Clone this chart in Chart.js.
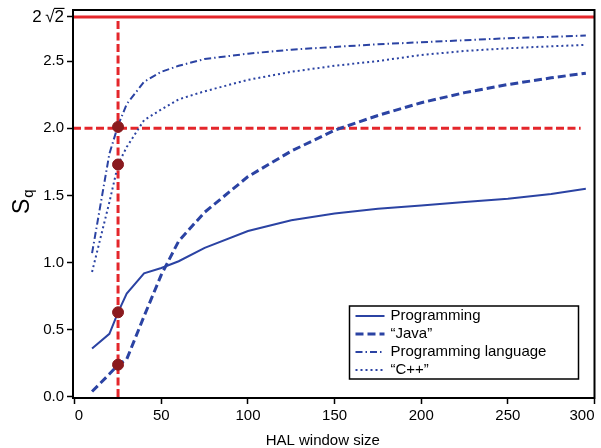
<!DOCTYPE html>
<html lang="en">
<head>
<meta charset="UTF-8">
<title>Sq vs HAL window size</title>
<style>
  html, body { margin: 0; padding: 0; background: #fff; }
  #wrap { width: 601px; height: 448px; }
</style>
</head>
<body>
<div id="wrap"><canvas id="chart" width="601" height="448"></canvas></div>
<script src="https://cdn.jsdelivr.net/npm/chart.js"></script>
<script>
// data
const windowSizes  = [10, 20, 25, 30, 40, 50, 60, 75, 100, 125, 150, 175, 200, 225, 250, 275, 295];
const programming  = [0.36, 0.47, 0.63, 0.77, 0.92, 0.96, 1.01, 1.11, 1.235, 1.315, 1.365, 1.40, 1.425, 1.45, 1.475, 1.51, 1.55];
const java         = [0.04, 0.17, 0.24, 0.28, 0.60, 0.91, 1.16, 1.375, 1.64, 1.83, 1.985, 2.095, 2.19, 2.265, 2.325, 2.375, 2.41];
const progLanguage = [1.07, 1.81, 2.02, 2.18, 2.345, 2.42, 2.465, 2.515, 2.555, 2.585, 2.605, 2.625, 2.64, 2.655, 2.67, 2.68, 2.69];
const cpp          = [0.93, 1.45, 1.73, 1.86, 2.06, 2.14, 2.215, 2.275, 2.36, 2.42, 2.465, 2.50, 2.545, 2.575, 2.595, 2.61, 2.62];

const markerX = 25;                       // chosen window size
const markerY = [0.24, 0.63, 1.73, 2.01]; // Sq of each curve at that size
const refY = 2.0;
const limitY = 2 * Math.SQRT2;
const xRange = [-1, 300];
const refLineEnd = 292;

const xTicks = [0, 50, 100, 150, 200, 250, 300];
const yTicks = [0, 0.5, 1.0, 1.5, 2.0, 2.5, limitY];

const BLUE = '#2b43a3';
const RED = '#e4262b';
const DOT = '#8a1a1e';
const FONT = "'Liberation Sans', Arial, Helvetica, sans-serif";

const pts = (xs, ys) => xs.map((x, i) => ({ x: x, y: ys[i] }));
const isLimit = v => Math.abs(v - limitY) < 1e-6;

function curve(label, ys, width, dash) {
    return {
        label: label,
        data: pts(windowSizes, ys),
        borderColor: BLUE,
        borderWidth: width,
        borderDash: dash,
        pointRadius: 0,
        tension: 0,
        inLegend: true,
        order: 1
    };
}

function refLine(xs, ys, width, dash) {
    return {
        data: pts(xs, ys),
        borderColor: RED,
        borderWidth: width,
        borderDash: dash,
        pointRadius: 0,
        tension: 0,
        order: 2
    };
}

// framed box around the plot area
const frame = {
    id: 'frame',
    afterDraw(chart) {
        const a = chart.chartArea, ctx = chart.ctx;
        ctx.save();
        ctx.strokeStyle = '#000';
        ctx.lineWidth = 2;
        ctx.strokeRect(a.left, a.top, a.right - a.left, a.bottom - a.top);
        ctx.restore();
    }
};

// legend box in the lower right corner
const boxLegend = {
    id: 'boxLegend',
    afterDraw(chart) {
        const a = chart.chartArea, ctx = chart.ctx;
        const items = chart.data.datasets.filter(d => d.inLegend);
        const w = 229, rowH = 18;
        const h = rowH * items.length + 1;
        const x0 = a.right - 16 - w, y0 = a.bottom - 19 - h;
        ctx.save();
        ctx.fillStyle = '#fff';
        ctx.fillRect(x0, y0, w, h);
        ctx.strokeStyle = '#000';
        ctx.lineWidth = 1.5;
        ctx.strokeRect(x0, y0, w, h);
        ctx.font = '15px ' + FONT;
        ctx.textBaseline = 'middle';
        items.forEach((d, i) => {
            const y = y0 + 10 + i * rowH;
            ctx.strokeStyle = d.borderColor;
            ctx.lineWidth = d.borderWidth;
            ctx.setLineDash(d.borderDash || []);
            ctx.beginPath();
            ctx.moveTo(x0 + 6, y);
            ctx.lineTo(x0 + 35, y);
            ctx.stroke();
            ctx.setLineDash([]);
            ctx.fillStyle = '#000';
            ctx.fillText(d.label, x0 + 41, y);
        });
        ctx.restore();
    }
};

// axis titles and the radical bar over 2√2
const axisText = {
    id: 'axisText',
    afterDraw(chart) {
        const a = chart.chartArea, ctx = chart.ctx;
        ctx.save();
        ctx.fillStyle = '#000';
        // x title
        ctx.font = '15px ' + FONT;
        ctx.textAlign = 'center';
        ctx.textBaseline = 'alphabetic';
        ctx.fillText('HAL window size', (a.left + a.right) / 2 - 11, 445);
        // y title: S with subscript q
        ctx.translate(29, 214);
        ctx.rotate(-Math.PI / 2);
        ctx.textAlign = 'left';
        ctx.font = '23px ' + FONT;
        ctx.fillText('S', 0, 0);
        const sw = ctx.measureText('S').width;
        ctx.font = '15px ' + FONT;
        ctx.fillText('q', sw + 1, 4);
        ctx.restore();

        // vinculum of the square root label
        const py = chart.scales.y.getPixelForValue(limitY);
        ctx.save();
        ctx.font = '17px ' + FONT;
        const right = a.left - 6 - 3;
        const w2 = ctx.measureText('2').width;
        ctx.strokeStyle = '#000';
        ctx.lineWidth = 1.2;
        ctx.beginPath();
        ctx.moveTo(right - w2 - 0.5, py - 8.5);
        ctx.lineTo(right + 0.5, py - 8.5);
        ctx.stroke();
        ctx.restore();
    }
};

new Chart(document.getElementById('chart'), {
    type: 'line',
    data: {
        datasets: [
            {
                type: 'scatter',
                data: markerY.map(y => ({ x: markerX, y: y })),
                backgroundColor: DOT,
                borderColor: DOT,
                pointRadius: 5.5,
                pointHoverRadius: 5.5,
                order: 0
            },
            curve('Programming', programming, 2, []),
            curve('\u201cJava\u201d', java, 3, [8, 4]),
            curve('Programming language', progLanguage, 2, [7, 3, 1.5, 3]),
            curve('\u201cC++\u201d', cpp, 2, [2, 3]),
            refLine([xRange[0], xRange[1]], [limitY, limitY], 3, []),
            refLine([markerX, markerX], [0, limitY], 3, [8, 3.5]),
            refLine([xRange[0], refLineEnd], [refY, refY], 3, [8, 3.5])
        ]
    },
    options: {
        responsive: false,
        devicePixelRatio: 1,
        animation: false,
        events: [],
        layout: { padding: { left: 0, right: 5, top: 10, bottom: 0 } },
        plugins: {
            legend: { display: false },
            tooltip: { enabled: false }
        },
        scales: {
            x: {
                type: 'linear',
                min: xRange[0],
                max: xRange[1],
                afterBuildTicks: s => { s.ticks = xTicks.map(v => ({ value: v })); },
                afterFit: s => { s.height = 50; s.paddingLeft = 0; s.paddingRight = 0; },
                ticks: {
                    color: '#000',
                    font: { family: FONT, size: 15 },
                    padding: 3,
                    align: 'inner',
                    maxRotation: 0,
                    callback: v => String(v)
                },
                grid: { drawOnChartArea: false, drawTicks: true, tickLength: 6, tickWidth: 1.5, tickColor: '#000' },
                border: { display: true, color: '#000', width: 2 }
            },
            y: {
                min: -0.008,
                max: 2.88,
                afterBuildTicks: s => { s.ticks = yTicks.map(v => ({ value: v })); },
                afterFit: s => { s.width = 73; s.paddingTop = 0; s.paddingBottom = 0; },
                ticks: {
                    color: '#000',
                    font: c => ({ family: FONT, size: (c.tick && isLimit(c.tick.value)) ? 17 : 15 }),
                    padding: 3,
                    callback: v => (isLimit(v) ? '2\u2009\u221A2' : v.toFixed(1))
                },
                grid: { drawOnChartArea: false, drawTicks: true, tickLength: 6, tickWidth: 1.5, tickColor: '#000' },
                border: { display: true, color: '#000', width: 2 }
            }
        }
    },
    plugins: [frame, boxLegend, axisText]
});
</script>
</body>
</html>
